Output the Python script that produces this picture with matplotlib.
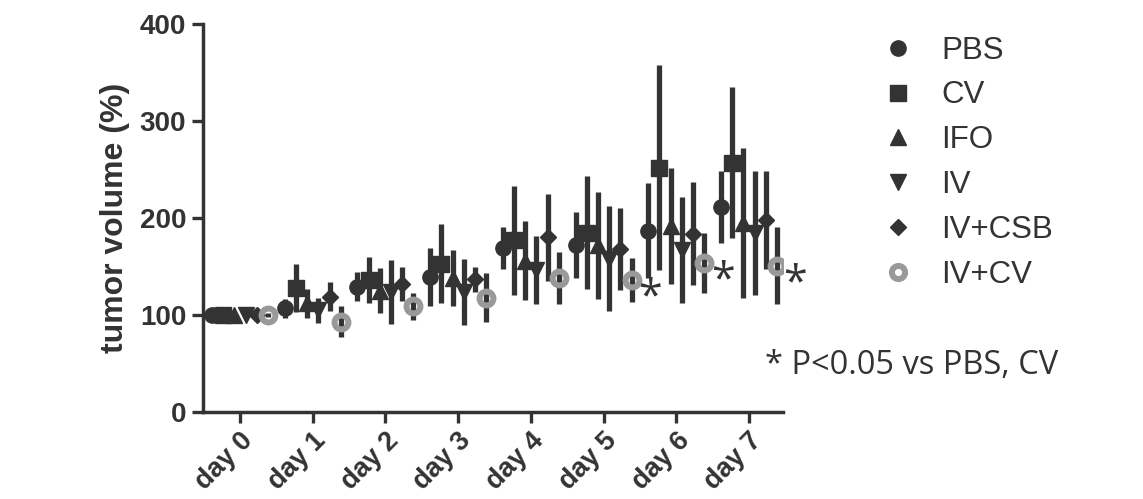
import matplotlib
matplotlib.use('Agg')
import matplotlib.pyplot as plt
from matplotlib.lines import Line2D

days = ['day 0', 'day 1', 'day 2', 'day 3', 'day 4', 'day 5', 'day 6', 'day 7']
groups = ['PBS', 'CV', 'IFO', 'IV', 'IV+CSB', 'IV+CV']

pbs_mean = [100, 107, 129, 139, 169, 172, 187, 211]
pbs_err = [2, 10, 15, 30, 22, 34, 49, 37]
cv_mean = [100, 128, 136, 153, 177, 185, 252, 257]
cv_err = [2, 25, 24, 41, 56, 58, 106, 78]
ifo_mean = [100, 112, 125, 138, 156, 172, 192, 195]
ifo_err = [2, 15, 23, 29, 41, 55, 60, 77]
iv_mean = [100, 105, 124, 124, 146, 158, 167, 185]
iv_err = [2, 13, 33, 34, 35, 54, 55, 64]
ivcsb_mean = [100, 119, 132, 137, 180, 168, 184, 198]
ivcsb_err = [2, 15, 18, 13, 45, 42, 53, 51]
ivcv_mean = [100, 93, 109, 118, 138, 136, 154, 151]
ivcv_err = [2, 16, 14, 25, 27, 23, 31, 40]

# days with * (IV+CV significant)
star_days = [5, 6, 7]

dark = '#333333'
grey = '#999999'

means = [pbs_mean, cv_mean, ifo_mean, iv_mean, ivcsb_mean, ivcv_mean]
errs = [pbs_err, cv_err, ifo_err, iv_err, ivcsb_err, ivcv_err]
markers = ['o', 's', '^', 'v', 'D', 'o']
msizes = [11, 11.5, 11, 11, 8, 10]

plt.rcParams['font.family'] = ['Liberation Sans', 'DejaVu Sans']

fig = plt.figure(figsize=(11.43, 4.99), dpi=100)
ax = fig.add_axes([0.1776, 0.1743, 0.5075, 0.7775])

step = 0.154
x = list(range(len(days)))
for i, g in enumerate(groups):
    off = (i - 2.5) * step
    xs = [d + off for d in x]
    ax.errorbar(xs, means[i], yerr=errs[i], fmt='none', ecolor=dark,
                elinewidth=3.8, capsize=0, zorder=2)
    if g == 'IV+CV':
        ax.plot(xs, means[i], linestyle='none', marker='o', ms=msizes[i],
                mfc='none', mec=grey, mew=4.3, zorder=3)
    else:
        ax.plot(xs, means[i], linestyle='none', marker=markers[i], ms=msizes[i],
                color=dark, zorder=3)

for d in star_days:
    ax.text(d + 2.5 * step + 0.255, ivcv_mean[d] - 19, '*', family='Open Sans',
            fontsize=31, color=dark, ha='center', va='center')

ax.set_xlim(-0.51, 7.47)
ax.set_ylim(0, 400)
ax.set_yticks([0, 100, 200, 300, 400])
ax.set_xticks(x)
ax.set_xticklabels(days, rotation=45, ha='right', rotation_mode='anchor')
ax.set_ylabel('tumor volume (%)', fontsize=23, fontweight='bold', color=dark, labelpad=7)

for lab in ax.get_yticklabels():
    lab.set_fontweight('bold')
    lab.set_fontsize(20)
    lab.set_color(dark)
for lab in ax.get_xticklabels():
    lab.set_fontweight('bold')
    lab.set_fontsize(19.5)
    lab.set_color(dark)

ax.spines['top'].set_visible(False)
ax.spines['right'].set_visible(False)
for s in ['left', 'bottom']:
    ax.spines[s].set_linewidth(2.5)
    ax.spines[s].set_color(dark)
ax.tick_params(axis='both', length=8, width=2.4, color=dark)
ax.tick_params(axis='y', pad=4)
ax.tick_params(axis='x', pad=3)

handles = []
for i, g in enumerate(groups):
    if g == 'IV+CV':
        h = Line2D([], [], linestyle='none', marker='o', ms=9.5, mfc='white', mec=grey, mew=4.3)
    else:
        h = Line2D([], [], linestyle='none', marker=markers[i], ms=msizes[i], color=dark)
    handles.append(h)
fig.legend(handles, groups, loc='upper left', bbox_to_anchor=(0.747, 0.985), frameon=False,
           fontsize=22.5, labelspacing=0.475, handlelength=1.0, handletextpad=0.9,
           labelcolor=dark)

fig.text(0.669, 0.268, '* P<0.05 vs PBS, CV', family='Open Sans', fontsize=23.5, color=dark,
         ha='left', va='center')

fig.savefig('out.png', dpi=100)
